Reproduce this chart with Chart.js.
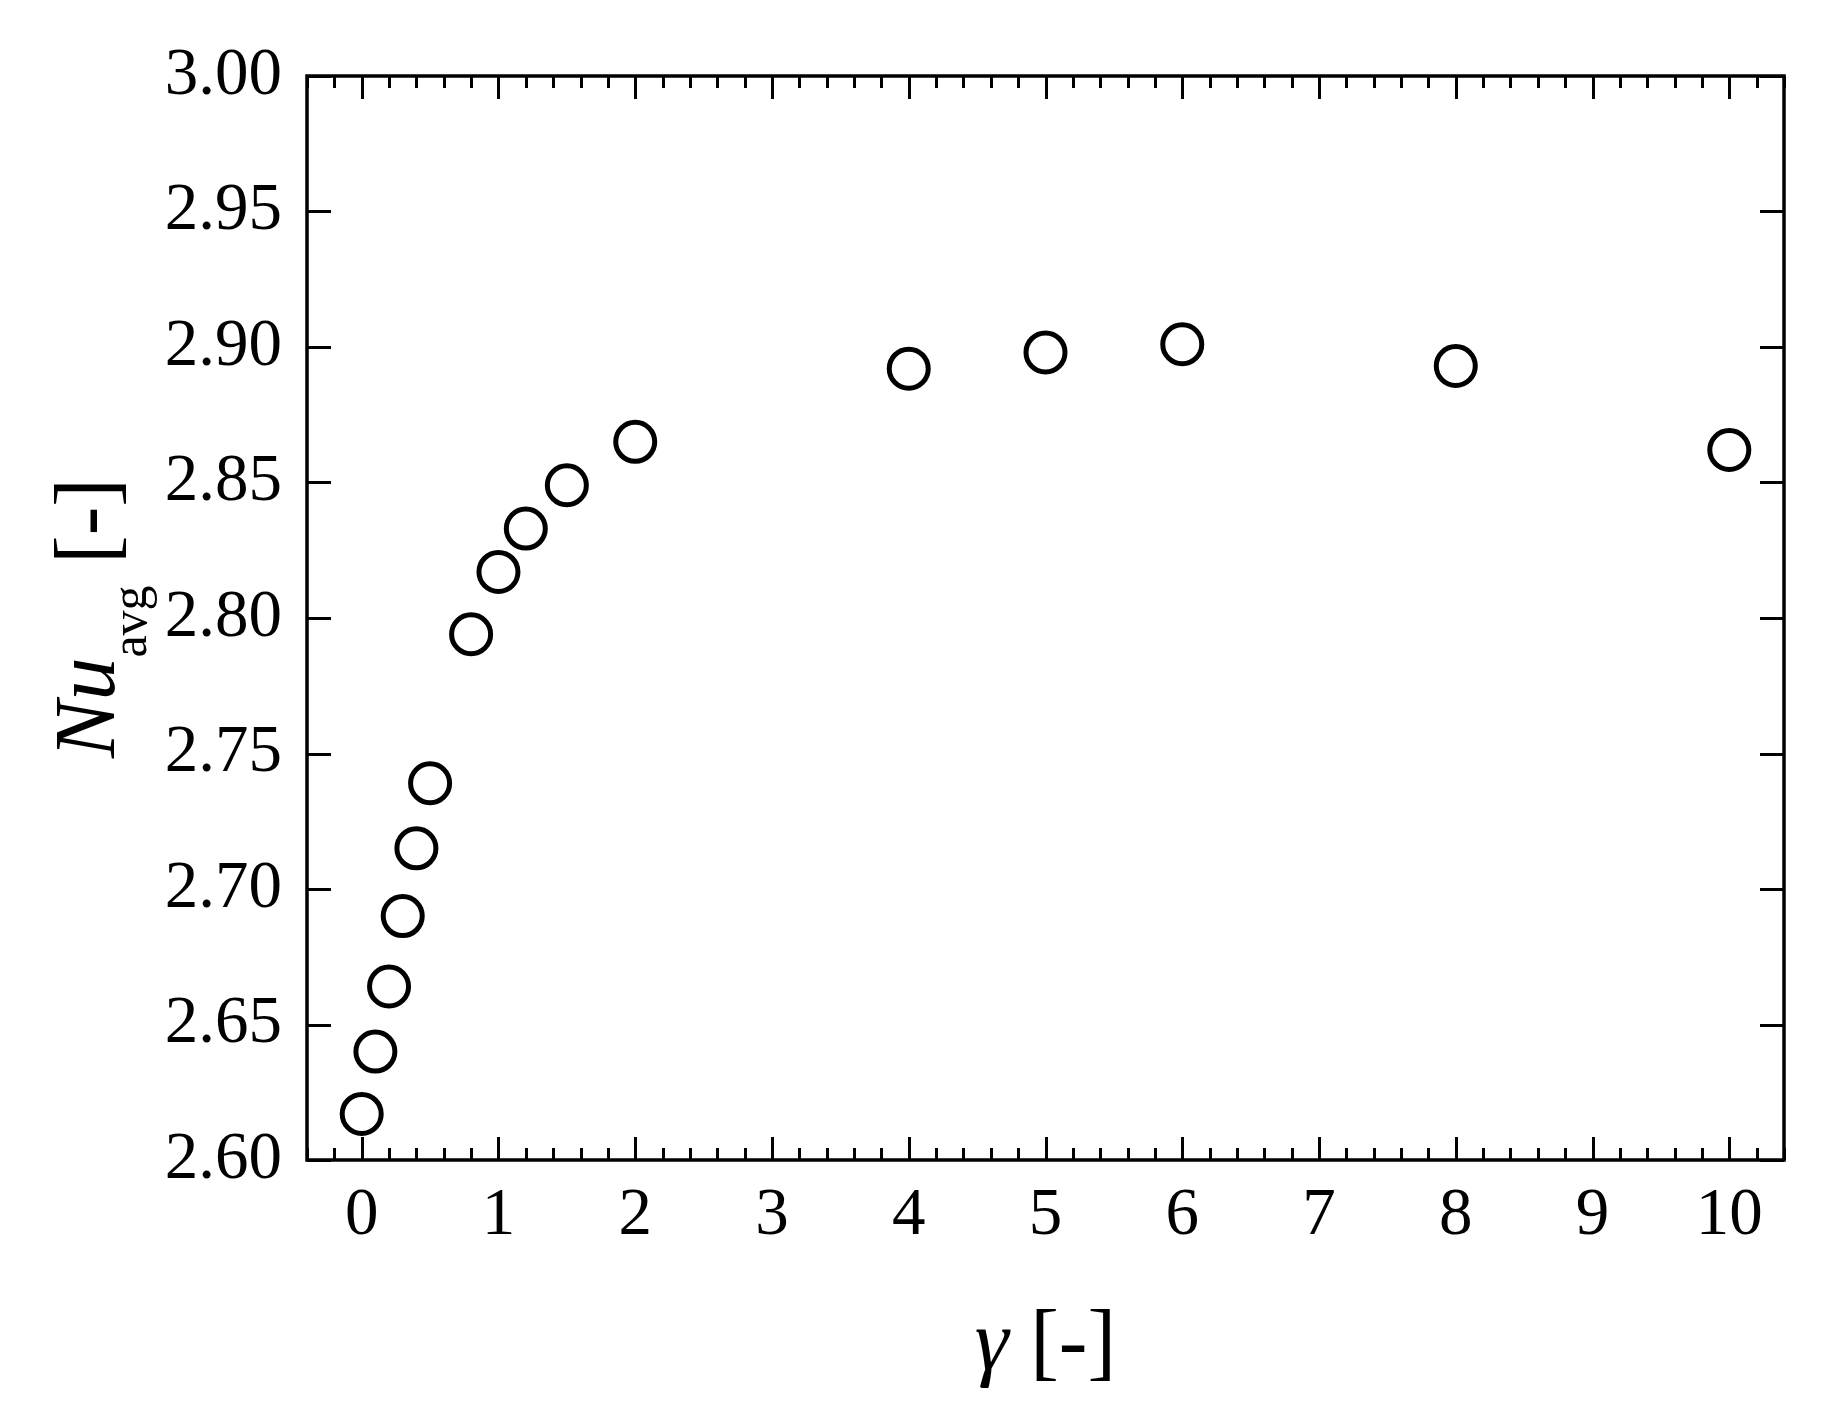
<!DOCTYPE html>
<html>
<head>
<meta charset="utf-8">
<script src="https://cdn.jsdelivr.net/npm/chart.js@4.4.1/dist/chart.umd.min.js"></script>
<style>
  body { margin: 0; background: #fff; }
  canvas { display: block; }
</style>
</head>
<body>
<canvas id="myChart" width="1824" height="1423"></canvas>
<script>
// gamma values and averaged Nusselt number
const gammaValues = [0, 0.1, 0.2, 0.3, 0.4, 0.5, 0.8, 1.0, 1.2, 1.5, 2, 4, 5, 6, 8, 10]
const nuAvgValues = [2.617, 2.640, 2.664, 2.690, 2.715, 2.739, 2.794, 2.817, 2.833, 2.849, 2.865,
                     2.892, 2.898, 2.901, 2.893, 2.862]

const xTickValues = [0, 1, 2, 3, 4, 5, 6, 7, 8, 9, 10]
const yTickValues = [2.60, 2.65, 2.70, 2.75, 2.80, 2.85, 2.90, 2.95, 3.00]

const serif = '"Liberation Serif", "Times New Roman", serif'

const points = gammaValues.map((g, i) => ({ x: g, y: nuAvgValues[i] }))

// draws the box, the inward ticks on all four sides and the two axis titles
const framePlugin = {
    id: 'frame',
    afterDraw(chart) {
        const ctx = chart.ctx
        const area = chart.chartArea
        const xs = chart.scales.x
        const ys = chart.scales.y
        ctx.save()
        ctx.strokeStyle = '#000'
        ctx.lineWidth = 3
        ctx.beginPath()
        // minor x ticks every 0.2, majors on the integers
        for (let k = Math.ceil(xs.min / 0.2); k * 0.2 <= xs.max + 1e-9; k++) {
            const v = k * 0.2
            const major = Math.abs(v - Math.round(v)) < 1e-6
            const len = major ? 23 : 12
            const px = Math.round(xs.getPixelForValue(v)) + 0.5
            ctx.moveTo(px, area.bottom)
            ctx.lineTo(px, area.bottom - len)
            ctx.moveTo(px, area.top)
            ctx.lineTo(px, area.top + len)
        }
        yTickValues.forEach(v => {
            const py = Math.round(ys.getPixelForValue(v)) + 0.5
            ctx.moveTo(area.left, py)
            ctx.lineTo(area.left + 24, py)
            ctx.moveTo(area.right, py)
            ctx.lineTo(area.right - 24, py)
        })
        ctx.stroke()

        ctx.lineWidth = 3.5
        ctx.strokeRect(area.left, area.top, area.right - area.left, area.bottom - area.top)

        ctx.fillStyle = '#000'
        ctx.textBaseline = 'alphabetic'
        ctx.textAlign = 'left'

        // x title: gamma [-]
        const xParts = [
            { text: 'γ', font: 'italic 86px ' + serif, dy: 0 },
            { text: ' [-]', font: '86px ' + serif, dy: 0 }
        ]
        drawParts(ctx, xParts, (area.left + area.right) / 2, 1369, 0)

        // y title: Nu_avg [-]
        const yParts = [
            { text: 'Nu', font: 'italic 86px ' + serif, dy: 0 },
            { text: 'avg', font: '50px ' + serif, dy: 32 },
            { text: ' [-]', font: '86px ' + serif, dy: 0 }
        ]
        drawParts(ctx, yParts, 114, (area.top + area.bottom) / 2, -Math.PI / 2)
        ctx.restore()
    }
}

function drawParts(ctx, parts, cx, cy, angle) {
    let total = 0
    parts.forEach(p => {
        ctx.font = p.font
        p.w = ctx.measureText(p.text).width
        total += p.w
    })
    ctx.save()
    if (angle) {
        ctx.translate(cx, cy)
        ctx.rotate(angle)
        let x = -total / 2
        parts.forEach(p => {
            ctx.font = p.font
            ctx.fillText(p.text, x, p.dy)
            x += p.w
        })
    } else {
        let x = cx - total / 2
        parts.forEach(p => {
            ctx.font = p.font
            ctx.fillText(p.text, x, cy + p.dy)
            x += p.w
        })
    }
    ctx.restore()
}

const ctx = document.querySelector('#myChart').getContext('2d')

new Chart(ctx, {
    type: 'scatter',
    data: {
        datasets: [
            {
                data: points,
                pointStyle: 'circle',
                pointRadius: 19.5,
                pointHoverRadius: 19.5,
                pointBorderWidth: 5,
                pointBackgroundColor: 'rgba(255,255,255,0)',
                pointBorderColor: '#000',
                showLine: false,
                clip: false
            }
        ]
    },
    options: {
        responsive: false,
        animation: false,
        layout: {
            padding: { left: 0, top: 76, right: 40, bottom: 0 }
        },
        plugins: {
            legend: { display: false },
            tooltip: { enabled: false }
        },
        scales: {
            x: {
                type: 'linear',
                min: -0.4,
                max: 10.4,
                afterBuildTicks: (scale) => {
                    scale.ticks = xTickValues.map(v => ({ value: v }))
                },
                afterFit: (scale) => {
                    scale.height = 263
                },
                grid: { display: false, drawTicks: false },
                border: { display: false },
                ticks: {
                    color: '#000',
                    padding: 16,
                    maxRotation: 0,
                    font: { family: serif, size: 67 }
                }
            },
            y: {
                type: 'linear',
                min: 2.6,
                max: 3.0,
                afterBuildTicks: (scale) => {
                    scale.ticks = yTickValues.map(v => ({ value: v }))
                },
                afterFit: (scale) => {
                    scale.width = 307
                },
                grid: { display: false, drawTicks: false },
                border: { display: false },
                ticks: {
                    color: '#000',
                    padding: 25,
                    font: { family: serif, size: 67 },
                    callback: (value) => value.toFixed(2)
                }
            }
        }
    },
    plugins: [framePlugin]
})
</script>
</body>
</html>
